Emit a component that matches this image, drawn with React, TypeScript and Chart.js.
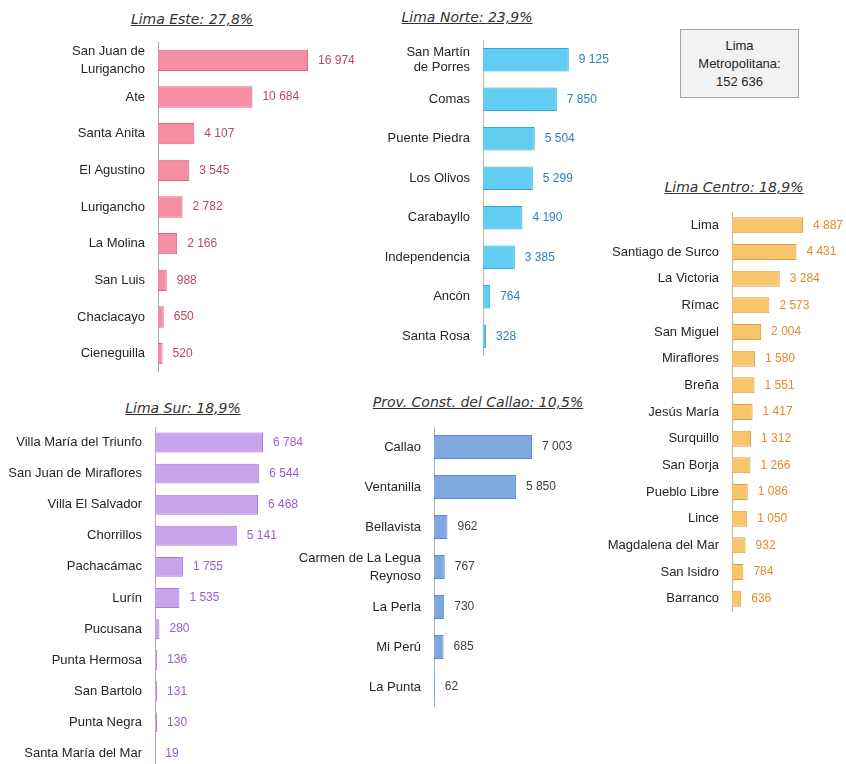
import React, { useEffect, useRef } from "react";
import { Chart, registerables } from "chart.js";
Chart.register(...registerables);

// ---------- DATA ----------
const esteLabels = [["San Juan de", "Lurigancho"], "Ate", "Santa Anita", "El Agustino", "Lurigancho", "La Molina", "San Luis", "Chaclacayo", "Cieneguilla"];
const esteValues = [16974, 10684, 4107, 3545, 2782, 2166, 988, 650, 520];

const norteLabels = [["San Martín", "de Porres"], "Comas", "Puente Piedra", "Los Olivos", "Carabayllo", "Independencia", "Ancón", "Santa Rosa"];
const norteValues = [9125, 7850, 5504, 5299, 4190, 3385, 764, 328];

const centroLabels = ["Lima", "Santiago de Surco", "La Victoria", "Rímac", "San Miguel", "Miraflores", "Breña", "Jesús María", "Surquillo", "San Borja", "Pueblo Libre", "Lince", "Magdalena del Mar", "San Isidro", "Barranco"];
const centroValues = [4887, 4431, 3284, 2573, 2004, 1580, 1551, 1417, 1312, 1266, 1086, 1050, 932, 784, 636];

const surLabels = ["Villa María del Triunfo", "San Juan de Miraflores", "Villa El Salvador", "Chorrillos", "Pachacámac", "Lurín", "Pucusana", "Punta Hermosa", "San Bartolo", "Punta Negra", "Santa María del Mar"];
const surValues = [6784, 6544, 6468, 5141, 1755, 1535, 280, 136, 131, 130, 19];

const callaoLabels = ["Callao", "Ventanilla", "Bellavista", ["Carmen de La Legua", "Reynoso"], "La Perla", "Mi Perú", "La Punta"];
const callaoValues = [7003, 5850, 962, 767, 730, 685, 62];

const titles = ["Lima Este: 27,8%", "Lima Norte: 23,9%", "Lima Centro: 18,9%", "Lima Sur: 18,9%", "Prov. Const. del Callao: 10,5%"];
const totalLines = ["Lima", "Metropolitana:", "152 636"];

// ---------- STYLE ----------
const FONT = '"Liberation Sans", Arial, sans-serif';
const TFONT = '"DejaVu Sans", sans-serif';

const fmt = (v: number) => String(v).replace(/\B(?=(\d{3})+(?!\d))/g, " ");

const valueLabelPlugin = {
  id: "valueLabels",
  afterDatasetsDraw(chart: any) {
    const { ctx } = chart;
    const opts = chart.options.plugins.valueLabels || {};
    chart.data.datasets.forEach((ds: any, di: number) => {
      const meta = chart.getDatasetMeta(di);
      meta.data.forEach((bar: any, i: number) => {
        ctx.save();
        ctx.fillStyle = opts.color || "#444";
        ctx.font = `${opts.size || 12}px ${FONT}`;
        ctx.textAlign = "left";
        ctx.textBaseline = "middle";
        ctx.fillText(fmt(ds.data[i]), bar.x + (opts.offset ?? 10), bar.y);
        ctx.restore();
      });
    });
  },
};

type PanelProps = {
  labels: any[];
  values: number[];
  fill: string;
  border: string;
  valueColor: string;
  axisColor: string;
  left: number;
  top: number;
  width: number;
  height: number;
  yWidth: number;
  xMax: number;
  barPct: number;
  lineHeight: number;
};

function Panel(p: PanelProps) {
  const ref = useRef<HTMLCanvasElement>(null);
  useEffect(() => {
    if (!ref.current) return;
    const chart = new Chart(ref.current, {
      type: "bar",
      data: {
        labels: p.labels,
        datasets: [
          {
            data: p.values,
            backgroundColor: p.fill,
            borderColor: p.border,
            borderWidth: 1,
            barPercentage: p.barPct,
            categoryPercentage: 1,
          },
        ],
      },
      options: {
        indexAxis: "y",
        animation: false,
        responsive: false,
        events: [],
        layout: { padding: 0 },
        plugins: {
          legend: { display: false },
          tooltip: { enabled: false },
          title: { display: false },
          valueLabels: { color: p.valueColor, size: 12, offset: 10 },
        } as any,
        scales: {
          x: { display: false, min: 0, max: p.xMax },
          y: {
            afterFit: (s: any) => {
              s.width = p.yWidth;
              s.paddingTop = 0;
              s.paddingBottom = 0;
            },
            grid: { display: false, drawTicks: false },
            border: { display: true, color: p.axisColor, width: 1 },
            ticks: {
              autoSkip: false,
              padding: 13,
              color: "#262626",
              font: { family: FONT, size: 13, lineHeight: p.lineHeight },
            },
          },
        },
      },
      plugins: [valueLabelPlugin],
    });
    return () => chart.destroy();
  }, []);
  return (
    <canvas
      ref={ref}
      width={p.width}
      height={p.height}
      style={{ position: "absolute", left: p.left, top: p.top, width: p.width, height: p.height }}
    />
  );
}

function Title({ text, x, y }: { text: string; x: number; y: number }) {
  return (
    <div
      style={{
        position: "absolute",
        left: x,
        top: y - 9,
        transform: "translateX(-50%)",
        whiteSpace: "nowrap",
        font: `italic 14px ${TFONT}`,
        lineHeight: "18px",
        textDecoration: "underline",
        color: "#333",
      }}
    >
      {text}
    </div>
  );
}

export default function App() {
  return (
    <div
      style={{
        position: "absolute",
        left: 0,
        top: 0,
        width: 846,
        height: 764,
        overflow: "hidden",
        background: "#fff",
      }}
    >
      <Title text={titles[0]} x={192} y={19} />
      <Title text={titles[1]} x={467} y={17} />
      <Title text={titles[2]} x={734} y={187} />
      <Title text={titles[3]} x={183} y={408} />
      <Title text={titles[4]} x={478} y={402} />

      <div
        style={{
          position: "absolute",
          left: 680,
          top: 29,
          width: 117,
          height: 67,
          background: "#f2f2f2",
          border: "1px solid #a6a6a6",
          display: "flex",
          flexDirection: "column",
          alignItems: "center",
          justifyContent: "center",
          font: `13px ${FONT}`,
          lineHeight: "18px",
          color: "#262626",
        }}
      >
        {totalLines.map((l, i) => (
          <div key={i}>{l}</div>
        ))}
      </div>

      <Panel labels={esteLabels} values={esteValues} fill="#f58ea2" border="#d8677e" valueColor="#b8485c" axisColor="#a6a6a6"
        left={0} top={42} width={380} height={330} yWidth={158} xMax={25113} barPct={0.58} lineHeight={1.38} />
      <Panel labels={norteLabels} values={norteValues} fill="#62cdf2" border="#38a6d2" valueColor="#2f7fc1" axisColor="#c9b59a"
        left={380} top={40} width={240} height={316} yWidth={103} xMax={14574} barPct={0.6} lineHeight={1.15} />
      <Panel labels={centroLabels} values={centroValues} fill="#f6c56c" border="#d9a142" valueColor="#e38b2e" axisColor="#c9b59a"
        left={600} top={212} width={246} height={400} yWidth={132} xMax={7846} barPct={0.6} lineHeight={1.2} />
      <Panel labels={surLabels} values={surValues} fill="#c9a3ec" border="#a67ed2" valueColor="#9a5cd6" axisColor="#b9a6d0"
        left={0} top={427} width={320} height={342} yWidth={155} xMax={10364} barPct={0.64} lineHeight={1.2} />
      <Panel labels={callaoLabels} values={callaoValues} fill="#80a9e0" border="#5a88c8" valueColor="#404040" axisColor="#a6b6cf"
        left={295} top={427} width={300} height={280} yWidth={139} xMax={11500} barPct={0.6} lineHeight={1.38} />
    </div>
  );
}
